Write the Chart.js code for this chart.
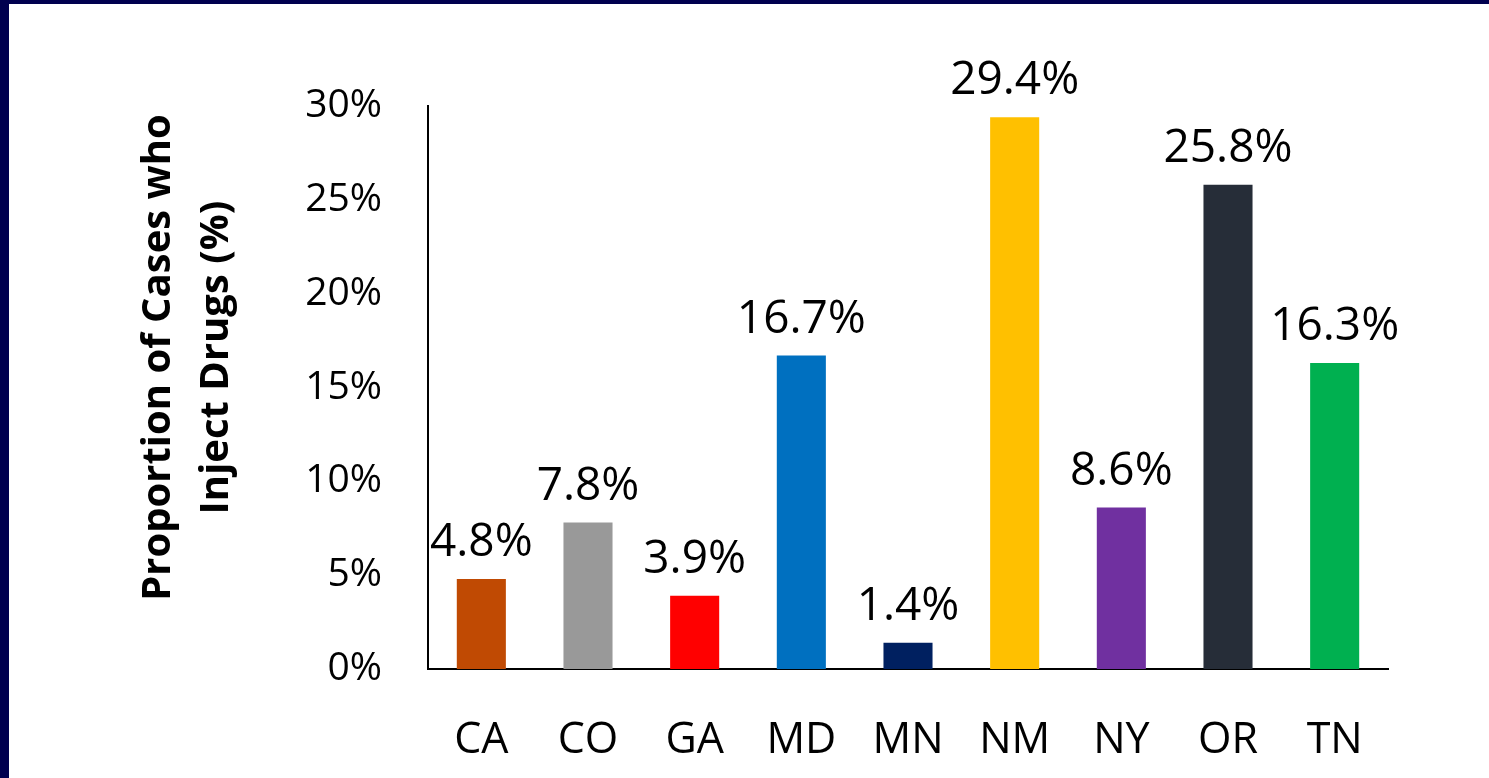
<!DOCTYPE html>
<html>
<head>
<meta charset="utf-8">
<script src="https://cdn.jsdelivr.net/npm/chart.js@4.4.1/dist/chart.umd.min.js"></script>
<style>
  html, body { margin: 0; padding: 0; width: 1489px; height: 778px; overflow: hidden; background: #00004F; }
  #wrap { position: absolute; left: 9px; top: 4px; width: 1480px; height: 774px; background: #ffffff; }
  canvas { display: block; }
</style>
</head>
<body>
<div id="wrap"><canvas id="c" width="1480" height="774"></canvas></div>
<script>
const categories = ['CA', 'CO', 'GA', 'MD', 'MN', 'NM', 'NY', 'OR', 'TN'];
const values = [4.8, 7.8, 3.9, 16.7, 1.4, 29.4, 8.6, 25.8, 16.3];
const valueLabels = ['4.8%', '7.8%', '3.9%', '16.7%', '1.4%', '29.4%', '8.6%', '25.8%', '16.3%'];
const barColors = ['#C04A03', '#999999', '#FF0000', '#0070C0', '#002060', '#FFC000', '#7030A0', '#262D38', '#00B050'];
const yTicks = [0, 5, 10, 15, 20, 25, 30];
const yTitle = ['Proportion of Cases who', 'Inject Drugs (%)'];

const FONT = "'Open Sans', 'DejaVu Sans', sans-serif";
const PAD = '\u2002\u2002\u2002'; // shifts rotated title slightly upward

const valueLabelPlugin = {
  id: 'valueLabels',
  afterDatasetsDraw(chart) {
    const ctx = chart.ctx;
    const meta = chart.getDatasetMeta(0);
    ctx.save();
    ctx.font = '46px ' + FONT;
    ctx.fillStyle = '#000000';
    ctx.textAlign = 'center';
    ctx.textBaseline = 'alphabetic';
    meta.data.forEach((bar, i) => {
      ctx.fillText(valueLabels[i], bar.x, bar.y - 23);
    });
    ctx.restore();
  }
};

new Chart(document.getElementById('c'), {
  type: 'bar',
  data: {
    labels: categories,
    datasets: [{
      data: values,
      backgroundColor: barColors,
      borderWidth: 0,
      barPercentage: 0.46,
      categoryPercentage: 1.0
    }]
  },
  options: {
    responsive: false,
    animation: false,
    devicePixelRatio: 1,
    layout: { padding: { top: 102, right: 101, bottom: 0, left: 0 } },
    plugins: {
      legend: { display: false },
      tooltip: { enabled: false }
    },
    scales: {
      x: {
        grid: { display: false, drawTicks: false },
        border: { display: true, color: '#000000', width: 2 },
        ticks: { color: '#000000', font: { family: FONT, size: 43 }, padding: 46, maxRotation: 0 },
        afterFit(scale) { scale.height = 109; }
      },
      y: {
        min: 0,
        max: 30,
        grid: { display: false, drawTicks: false },
        border: { display: true, color: '#000000', width: 2 },
        afterBuildTicks(scale) { scale.ticks = yTicks.map(v => ({ value: v })); },
        ticks: {
          color: '#000000',
          font: { family: FONT, size: 39 },
          padding: 46,
          callback: (v) => v + '%'
        },
        title: {
          display: true,
          text: yTitle.map(t => PAD + t),
          color: '#000000',
          font: { family: FONT, size: 40, weight: 'bold', lineHeight: 1.45 },
          padding: { top: 121, bottom: 0 }
        },
        afterFit(scale) { scale.width = 419; }
      }
    }
  },
  plugins: [valueLabelPlugin]
});
</script>
</body>
</html>
